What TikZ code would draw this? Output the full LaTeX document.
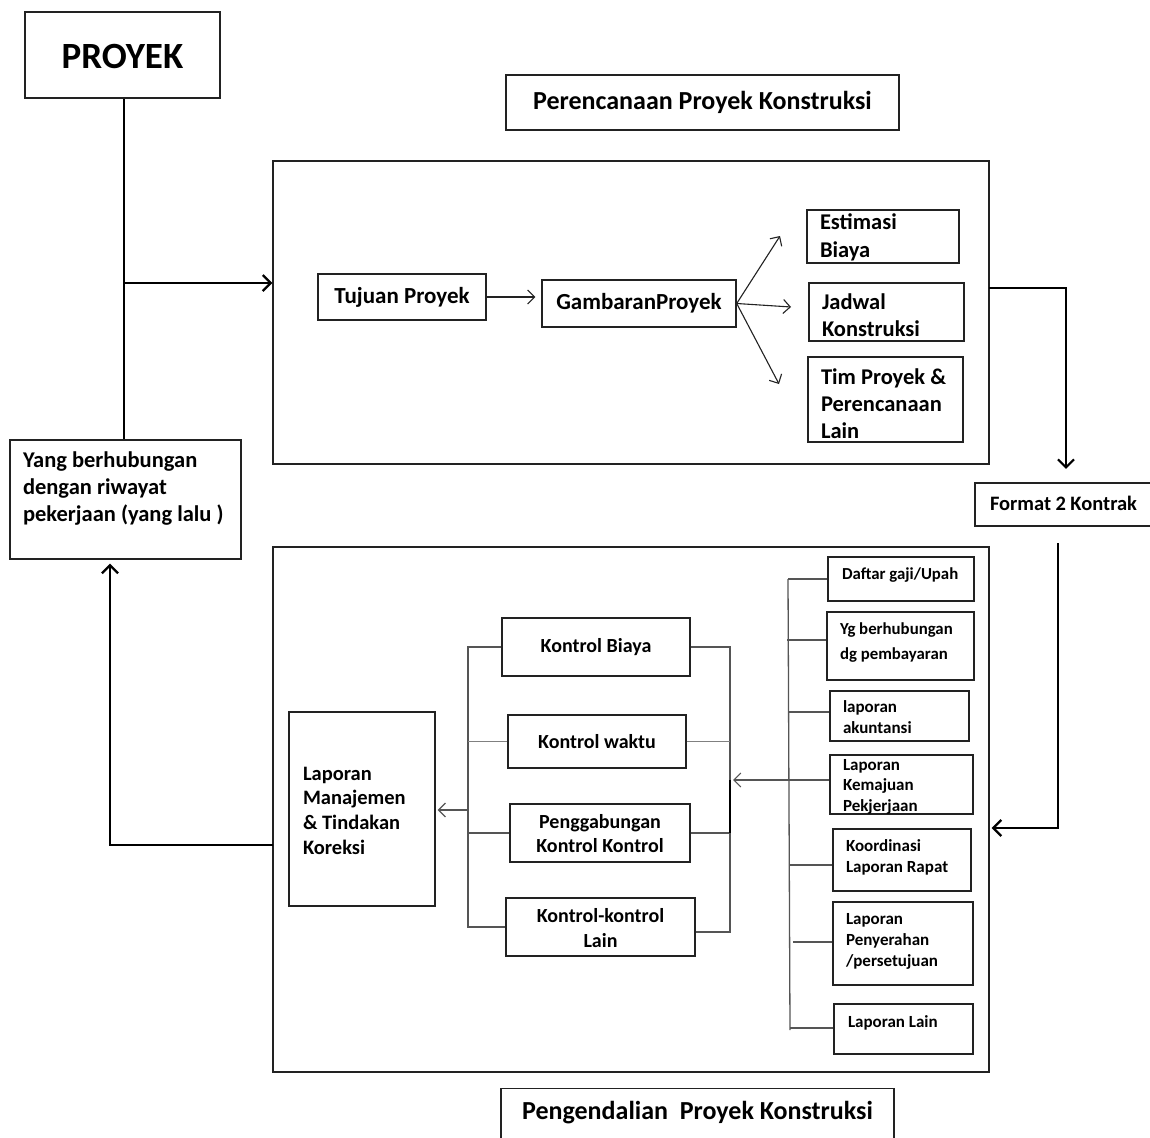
\documentclass[tikz,border=0pt]{standalone}
\usepackage{fontspec}
\setmainfont{Carlito}
\usetikzlibrary{arrows.meta}
\definecolor{edge}{HTML}{222222}
\definecolor{bracket}{HTML}{555555}
\newcommand{\fs}[2]{\bfseries\fontsize{#1}{#2}\selectfont}
\begin{document}
\begin{tikzpicture}[x=1pt,y=-1pt,
  box/.style={draw=edge,line width=1.4pt,rectangle,inner sep=0pt,font=\fs{20}{24}},
  lbox/.style={box,align=flush left},
  cbox/.style={box,align=center},
  tb/.style 2 args={text height=#1pt,text depth=#2pt},
  thick line/.style={line width=2.6pt,draw=black},
  thin arrow/.style={line width=1.1pt,draw=edge,-{Straight Barb[length=7pt,width=14pt,line width=1.1pt]}},
  big arrow/.style={thick line,-{Straight Barb[length=8pt,width=16pt,line width=2.2pt]}},
  brk/.style={line width=1.3pt,draw=bracket},
]
\useasboundingbox (0,0) rectangle (1150,1137);
\clip (0,0) rectangle (1150,1137);
\fill[white] (0,0) rectangle (1150,1137);

% ---- top level
\node[box,line width=2.6pt,minimum width=195,tb={57}{29},font=\fs{37}{40}] (proyek) at (122.5,55) {PROYEK};
\node[box,minimum width=393,minimum height=55,font=\fs{26}{30}] (titleplan) at (702.5,102.5) {Perencanaan Proyek Konstruksi};
\node[box,minimum width=716,minimum height=303] (plan) at (631,312.5) {};
\node[lbox,minimum width=231,text width=205,tb={27}{92},font=\fs{22.5}{27}] (riwayat) at (125.5,499.5)
  {Yang berhubungan\\dengan riwayat\\pekerjaan (yang lalu )};

% ---- planning
\node[box,minimum width=168,minimum height=46,font=\fs{23}{27}] (tujuan) at (402,297) {Tujuan Proyek};
\node[box,minimum width=194,minimum height=47,font=\fs{23}{27}] (gambaran) at (639,303.5) {GambaranProyek};
\node[lbox,minimum width=152,text width=126,tb={19}{34},font=\fs{22.5}{28}] (estimasi) at (883,236.5) {Estimasi\\Biaya};
\node[lbox,minimum width=155,text width=129,tb={26}{32},font=\fs{22.5}{27}] (jadwal) at (886.5,312) {Jadwal\\Konstruksi};
\node[lbox,minimum width=155,text width=129,tb={27}{58},font=\fs{22.5}{27}] (tim) at (885.5,399.5) {Tim Proyek \&\\Perencanaan\\Lain};

% ---- contract
\node[lbox,line width=2.2pt,minimum width=177,text width=147,tb={27}{16},font=\fs{20.5}{24}] (kontrak) at (1063.5,504.5) {Format 2 Kontrak};

% ---- control
\node[box,minimum width=716,minimum height=525] (ctrl) at (631,809.5) {};
\node[cbox,minimum width=393,tb={31}{40},font=\fs{26}{30}] (titlectrl) at (697.5,1124) {Pengendalian\ \ Proyek Konstruksi};

\node[lbox,minimum width=146,text width=118,tb={68}{126},font=\fs{20.5}{24.7}] (manaj) at (362,809)
  {Laporan\\Manajemen\\\& Tindakan\\Koreksi};

\node[cbox,minimum width=188,minimum height=58] (kbiaya) at (596,647) {Kontrol Biaya};
\node[cbox,minimum width=178,minimum height=53] (kwaktu) at (597,741.5) {Kontrol waktu};
\node[cbox,minimum width=180,tb={48}{10}] (kgabung) at (600,833) {Penggabungan\\Kontrol Kontrol};
\node[cbox,minimum width=189,tb={49}{9},font=\fs{20}{25}] (klain) at (600.5,927) {Kontrol-kontrol\\Lain};

\node[lbox,minimum width=146,text width=118,tb={22}{22},font=\fs{16.8}{21}] (gaji) at (901,579) {Daftar gaji/Upah};
\node[lbox,minimum width=147,text width=121,tb={22}{46},font=\fs{16.8}{25}] (bayar) at (900.5,646) {Yg berhubungan\\dg pembayaran};
\node[lbox,minimum width=139,text width=113,tb={21}{29},font=\fs{17}{21}] (akun) at (899.5,716) {laporan\\akuntansi};
\node[lbox,minimum width=143,text width=117,tb={15}{44},font=\fs{17}{20.5}] (kemajuan) at (901.5,784.5) {Laporan\\Kemajuan\\Pekjerjaan};
\node[lbox,minimum width=138,text width=112,tb={22}{40},font=\fs{17}{21}] (rapat) at (902,860) {Koordinasi\\Laporan Rapat};
\node[lbox,minimum width=140,text width=114,tb={22}{61},font=\fs{17}{21}] (serah) at (903,943.5) {Laporan\\Penyerahan\\/persetujuan};
\node[lbox,minimum width=139,text width=111,tb={23}{27},font=\fs{17}{21}] (laplain) at (903.5,1029) {Laporan Lain};

% ---- main flow
\coordinate (split) at (124,283);
\draw[thick line] (proyek.south -| split) -- (riwayat.north -| split);
\draw[big arrow] (split) -- (split -| plan.west);

\draw[thin arrow] (tujuan.east) -- ([xshift=-6pt]gambaran.west |- tujuan.east);
\coordinate (fanup) at (780,236);
\coordinate (fanmid) at (791,307);
\coordinate (fandown) at (779,384);
\draw[thin arrow] (gambaran.east) -- (fanup);
\draw[thin arrow] (gambaran.east) -- (fanmid);
\draw[thin arrow] (gambaran.east) -- (fandown);

\coordinate (planout) at (989,288);
\draw[big arrow] (planout) -| ([yshift=13pt]kontrak.north -| 1066,0);

\coordinate (ctrltop) at (1058,543);
\coordinate (ctrlbend) at (1058,828);
\draw[big arrow] (ctrltop) -- (ctrlbend) -- ([xshift=2pt]ctrlbend -| ctrl.east);

\coordinate (ctrlout) at (273,845);
\draw[big arrow] (ctrlout) -- (110,845) -- ([yshift=-4pt]riwayat.south -| 110,0);

% ---- report list bracket
\coordinate (lt) at (788,579);
\coordinate (lb) at (790,1030);
\draw[brk] (lt) -- (lb);
\draw[brk] (lt) -- (gaji.west |- lt);
\draw[brk] (787,640) -- (bayar.west |- 0,640);
\draw[brk] (788,712) -- (akun.west |- 0,712);
\draw[brk] (788,780) -- (kemajuan.west |- 0,780);
\draw[brk] (789,865) -- (rapat.west |- 0,865);
\draw[brk] (793,942) -- (serah.west |- 0,942);
\draw[brk] (790,1028) -- (laplain.west |- 0,1028);
\coordinate (rin) at (788,780);
\coordinate (rk) at (730,780);
\draw[thin arrow,draw=bracket] (rin) -- ([xshift=3pt]rk);

% ---- control bracket, right side
\coordinate (rt) at (730,647);
\coordinate (rb) at (730,932);
\draw[brk] (kbiaya.east) -- (rt) -- (rb) -- (klain.east |- rb);
\draw[brk,draw=gray] (kwaktu.east) -- (kwaktu.east -| rt);
\draw[brk] (kgabung.east) -- (kgabung.east -| rt);
\draw[line width=2pt] (rk) -- (kgabung.east -| rt);

% ---- control bracket, left side
\coordinate (lt2) at (468,647);
\coordinate (lb2) at (468,927);
\draw[brk] (kbiaya.west) -- (lt2) -- (lb2) -- (klain.west);
\draw[brk,draw=gray] (kwaktu.west) -- (kwaktu.west -| lt2);
\draw[brk] (kgabung.west) -- (kgabung.west -| lt2);
\coordinate (lin) at (468,810);
\draw[thin arrow,draw=bracket] (lin) -- ([xshift=2pt]lin -| manaj.east);
\end{tikzpicture}
\end{document}
